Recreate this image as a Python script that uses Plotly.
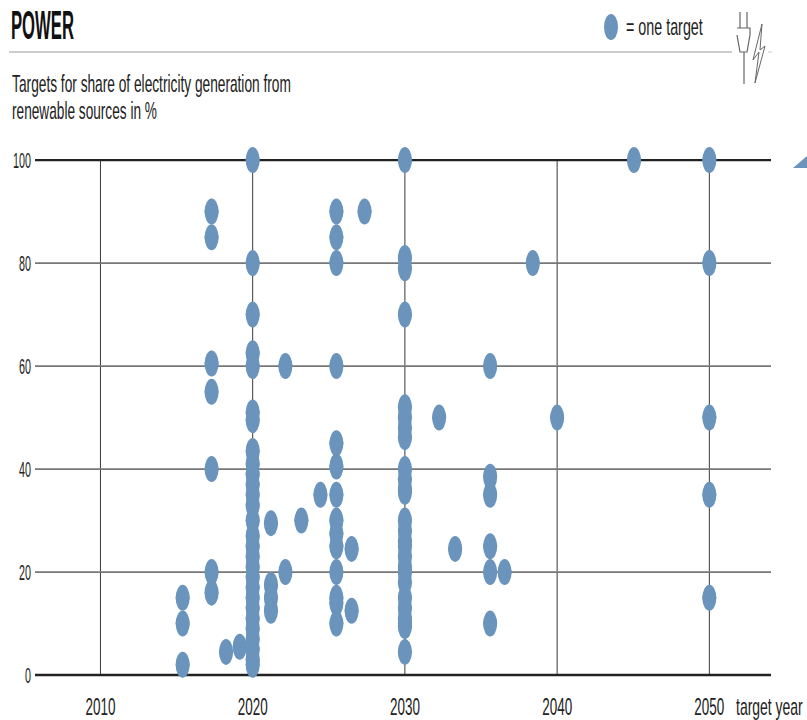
import json
import plotly.graph_objects as go

FONT = "Liberation Sans, Arial, sans-serif"
BLUE = "#6A94BC"

target_years = {
    2015.4: [15, 10, 2],
    2017.3: [90, 85, 60.5, 55, 40, 20, 16],
    2018.25: [4.5],
    2019.15: [5.5],
    2020: [100, 80, 70, 62.5, 60, 51, 49.5, 43.5, 41, 39, 37, 35, 33, 30, 27, 25, 23, 21, 19, 17, 15, 13, 11, 9, 7, 5, 3, 2],
    2021.2: [29.5, 17.5, 15, 12.5],
    2022.15: [60, 20],
    2023.2: [30],
    2024.45: [35],
    2025.5: [90, 85, 80, 60, 45, 40.5, 35, 30, 27.5, 25, 20, 15, 14, 10],
    2026.5: [24.5, 12.5],
    2027.35: [90],
    2030: [100, 81, 79, 70, 52, 50, 48, 46.2, 40, 38, 36, 35.6, 30, 28, 26, 25, 23, 21, 20, 18, 15, 13, 11, 10, 9.5, 4.5],
    2032.25: [50],
    2033.3: [24.5],
    2035.6: [60, 38.5, 35, 25, 20, 10],
    2036.55: [20],
    2038.4: [80],
    2040: [50],
    2045.05: [100],
    2050: [100, 80, 50, 35, 15],
}
x_ticks = [2010, 2020, 2030, 2040, 2050]
y_ticks = [0, 20, 40, 60, 80, 100]

xs, ys = [], []
for yr, vals in target_years.items():
    for v in vals:
        xs.append(yr)
        ys.append(v)

W, H = 807, 720
L, R, T, B = 35, 771, 140, 690
def px(x): return (x - L) / (R - L)
def py(y): return (B - y) / (B - T)

shapes = []
for t in x_ticks:
    shapes.append(dict(type="line", xref="x", yref="y", x0=t, x1=t, y0=0, y1=100,
                       line=dict(color="#3a3a3a", width=1), layer="below"))
for t in y_ticks:
    edge = t in (0, 100)
    shapes.append(dict(type="line", xref="x", yref="y", x0=2005.7, x1=2054.05, y0=t, y1=t,
                       line=dict(color="#222222" if edge else "#777777", width=2.4 if edge else 1.8), layer="below"))
for x, y in zip(xs, ys):
    shapes.append(dict(type="circle", xref="x", yref="y", xsizemode="pixel", ysizemode="pixel",
                       xanchor=x, yanchor=y, x0=-7, x1=7, y0=-13, y1=13,
                       fillcolor=BLUE, line=dict(width=0), layer="above"))
shapes.append(dict(type="line", xref="paper", yref="paper", x0=px(9), x1=px(732), y0=py(52), y1=py(52),
                   line=dict(color="#cccccc", width=2)))
shapes.append(dict(type="line", xref="paper", yref="paper", x0=px(768), x1=px(772), y0=py(52), y1=py(52),
                   line=dict(color="#cccccc", width=1)))
shapes.append(dict(type="circle", xref="paper", yref="paper", x0=px(604), x1=px(618), y0=py(14), y1=py(40),
                   fillcolor=BLUE, line=dict(width=0)))

def path(points, close=False):
    d = "M " + " L ".join(f"{px(a):.5f},{py(b):.5f}" for a, b in points)
    return d + (" Z" if close else "")
ICON = "#666666"
icon_paths = [
    [(740, 12), (740, 28)], [(747, 12), (747, 28)],
    [(737, 28), (750, 28), (750, 35), (747, 52), (740, 52), (737, 35)],
    [(744, 52), (744, 84)],
]
for p in icon_paths:
    shapes.append(dict(type="path", xref="paper", yref="paper", path=path(p),
                       line=dict(color=ICON, width=1.2)))
shapes.append(dict(type="path", xref="paper", yref="paper",
                   path=path([(762, 24), (753, 60), (759, 52), (755, 83), (765, 46), (760, 50)], True),
                   line=dict(color=ICON, width=1), fillcolor="white"))
shapes.append(dict(type="path", xref="paper", yref="paper",
                   path=path([(793, 168), (807, 168), (807, 156)], True),
                   line=dict(width=0), fillcolor=BLUE))

def label(text, x, y, size, color="#222222", weight=400):
    return dict(text=text, xref="paper", yref="paper", x=px(x), y=py(y), xanchor="left", yanchor="middle",
                showarrow=False, font=dict(family=FONT, size=size, color=color, weight=weight))

annotations = [
    label("POWER", 9, 25, 40, color="#111111", weight=700),
    label("= one target", 624, 26, 24),
    label("Targets for share of electricity generation from", 10, 83, 24),
    label("renewable sources in %", 10, 110, 24),
    label("target year", 734, 707, 23),
]

# The reference uses a very condensed type: squeeze each real text to its width there.
text_widths = {
    "POWER": 63, "= one target": 77, "Targets for share of electricity generation from": 279,
    "renewable sources in %": 145, "target year": 67,
    "2010": 30, "2020": 30, "2030": 30, "2040": 30, "2050": 30,
    "0": 6, "20": 12, "40": 12, "60": 12, "80": 12, "100": 18,
}
post = """
document.body.style.margin = '0';
var widths = %s;
function squeeze() {
  document.querySelectorAll('.infolayer .annotation text, .xtick text, .ytick text').forEach(function (t) {
    if (t.dataset.squeezed) return;
    var w = widths[t.textContent.trim()];
    if (!w) return;
    var b = t.getBBox();
    if (!b.width) return;
    var s = w / b.width;
    var inX = t.closest('.xtick'), inY = t.closest('.ytick');
    var a = inX ? b.x + b.width / 2 : (inY ? b.x + b.width : b.x);
    var old = t.getAttribute('transform') || '';
    t.setAttribute('transform', old + ' translate(' + a + ',0) scale(' + s + ',1) translate(' + (-a) + ',0)');
    t.dataset.squeezed = '1';
  });
}
squeeze(); setTimeout(squeeze, 30); setTimeout(squeeze, 300);
""" % json.dumps(text_widths)

fig = go.Figure(go.Scatter(x=xs, y=ys, mode="markers", marker=dict(size=14, color=BLUE), cliponaxis=False,
                           showlegend=False, hoverinfo="x+y"))
fig.update_layout(
    width=W, height=H, autosize=False,
    margin=dict(l=L, r=W - R, t=T, b=H - B, autoexpand=False),
    paper_bgcolor="white", plot_bgcolor="white", shapes=shapes, annotations=annotations,
    xaxis=dict(range=[2005.7, 2054.05], tickvals=x_ticks, showgrid=False, zeroline=False, showline=False, ticks="",
               tickfont=dict(family=FONT, size=23, color="#222222"), ticklabelstandoff=1),
    yaxis=dict(range=[-2.9, 103.9], tickvals=y_ticks, showgrid=False, zeroline=False, showline=False, ticks="",
               tickfont=dict(family=FONT, size=22, color="#222222"), ticklabelstandoff=3),
)
fig.write_html("out.html", post_script=post, config={"displayModeBar": False})
